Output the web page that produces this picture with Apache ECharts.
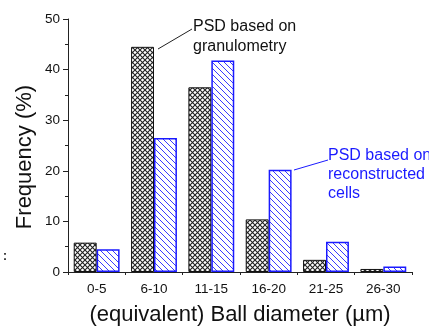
<!DOCTYPE html>
<html>
<head>
<meta charset="utf-8">
<script src="https://cdn.jsdelivr.net/npm/echarts@6/dist/echarts.min.js"></script>
<style>
  html, body { margin: 0; padding: 0; background: #fff; }
  #chart { width: 429px; height: 327px; }
</style>
</head>
<body>
<div id="chart"></div>
<script>
  // bins of equivalent ball diameter
  const categories = ['0-5', '6-10', '11-15', '16-20', '21-25', '26-30'];
  // PSD based on granulometry (%)
  const granulometry = [5.8, 44.5, 36.5, 10.4, 2.4, 0.6];
  // PSD based on reconstructed cells (%)
  const reconstructed = [4.5, 26.5, 41.8, 20.2, 6.0, 1.1];
  const yTicks = [0, 10, 20, 30, 40, 50];

  // cross hatch pattern for the black bars
  function crossHatch() {
    const c = document.createElement('canvas');
    c.width = 5; c.height = 5;
    const ctx = c.getContext('2d');
    ctx.fillStyle = '#fff';
    ctx.fillRect(0, 0, 5, 5);
    ctx.strokeStyle = '#222';
    ctx.lineWidth = 1.1;
    ctx.beginPath();
    ctx.moveTo(0, 0); ctx.lineTo(5, 5);
    ctx.moveTo(5, 0); ctx.lineTo(0, 5);
    ctx.stroke();
    return c;
  }
  // diagonal hatch for the blue bars
  function diagHatch() {
    const c = document.createElement('canvas');
    c.width = 6; c.height = 6;
    const ctx = c.getContext('2d');
    ctx.fillStyle = '#fff';
    ctx.fillRect(0, 0, 6, 6);
    ctx.strokeStyle = '#3a3aff';
    ctx.lineWidth = 1;
    ctx.beginPath();
    ctx.moveTo(-1, -1); ctx.lineTo(7, 7);
    ctx.moveTo(5, -1); ctx.lineTo(7, 1);
    ctx.moveTo(-1, 5); ctx.lineTo(1, 7);
    ctx.stroke();
    return c;
  }

  const chart = echarts.init(document.getElementById('chart'));
  const font = 'Liberation Sans, Arial, sans-serif';
  const option = {
    backgroundColor: '#fff',
    animation: false,
    grid: { left: 68, right: 17, top: 19, bottom: 55, containLabel: false, outerBoundsMode: 'none' },
    xAxis: {
      type: 'category',
      data: categories,
      name: '(equivalent) Ball diameter (µm)',
      nameLocation: 'middle',
      nameGap: 32,
      nameTextStyle: { fontFamily: font, fontSize: 22, color: '#111' },
      axisLine: { lineStyle: { color: '#222', width: 1 } },
      axisTick: { show: true, length: 3, inside: false, lineStyle: { color: '#222' } },
      axisLabel: { fontFamily: font, fontSize: 13.5, color: '#111', margin: 10 }
    },
    yAxis: {
      type: 'value',
      min: yTicks[0],
      max: yTicks[yTicks.length - 1],
      interval: 10,
      axisLine: { show: true, lineStyle: { color: '#222', width: 1 } },
      axisTick: { show: true, length: 5, lineStyle: { color: '#222' } },
      minorTick: { show: true, splitNumber: 2, length: 3, lineStyle: { color: '#222' } },
      splitLine: { show: false },
      axisLabel: { fontFamily: font, fontSize: 13.5, color: '#111', margin: 8 }
    },
    series: [
      {
        name: 'PSD based on granulometry',
        type: 'bar',
        data: granulometry,
        barGap: '0%',
        barCategoryGap: '20%',
        itemStyle: {
          color: { image: crossHatch(), repeat: 'repeat' },
          borderColor: '#111',
          borderWidth: 1
        }
      },
      {
        name: 'PSD based on reconstructed cells',
        type: 'bar',
        data: reconstructed,
        barGap: '0%',
        barCategoryGap: '20%',
        itemStyle: {
          color: { image: diagHatch(), repeat: 'repeat' },
          borderColor: '#1a1aff',
          borderWidth: 1.5
        }
      }
    ],
    graphic: [
      {
        type: 'text', x: 25, y: 157, rotation: Math.PI / 2,
        style: { text: 'Frequency (%)', fill: '#111', font: '22px ' + font, align: 'center', verticalAlign: 'middle' }
      },
      { type: 'line', shape: { x1: 158, y1: 49, x2: 192, y2: 29 }, style: { stroke: '#222', lineWidth: 1 } },
      { type: 'text', left: 193, top: 17, style: { text: 'PSD based on\ngranulometry', fill: '#111', font: '16px ' + font, lineHeight: 20 } },
      { type: 'line', shape: { x1: 294, y1: 170, x2: 328, y2: 160 }, style: { stroke: '#1a1aff', lineWidth: 1 } },
      { type: 'text', left: 328, top: 146, style: { text: 'PSD based on\nreconstructed\ncells', fill: '#1a1aff', font: '16px ' + font, lineHeight: 19 } },
      { type: 'text', left: 3, top: 251, style: { text: ':', fill: '#222', font: 'bold 12px ' + font } }
    ]
  };
  chart.setOption(option);
  window.addEventListener('resize', () => { chart.resize(); });
</script>
</body>
</html>
